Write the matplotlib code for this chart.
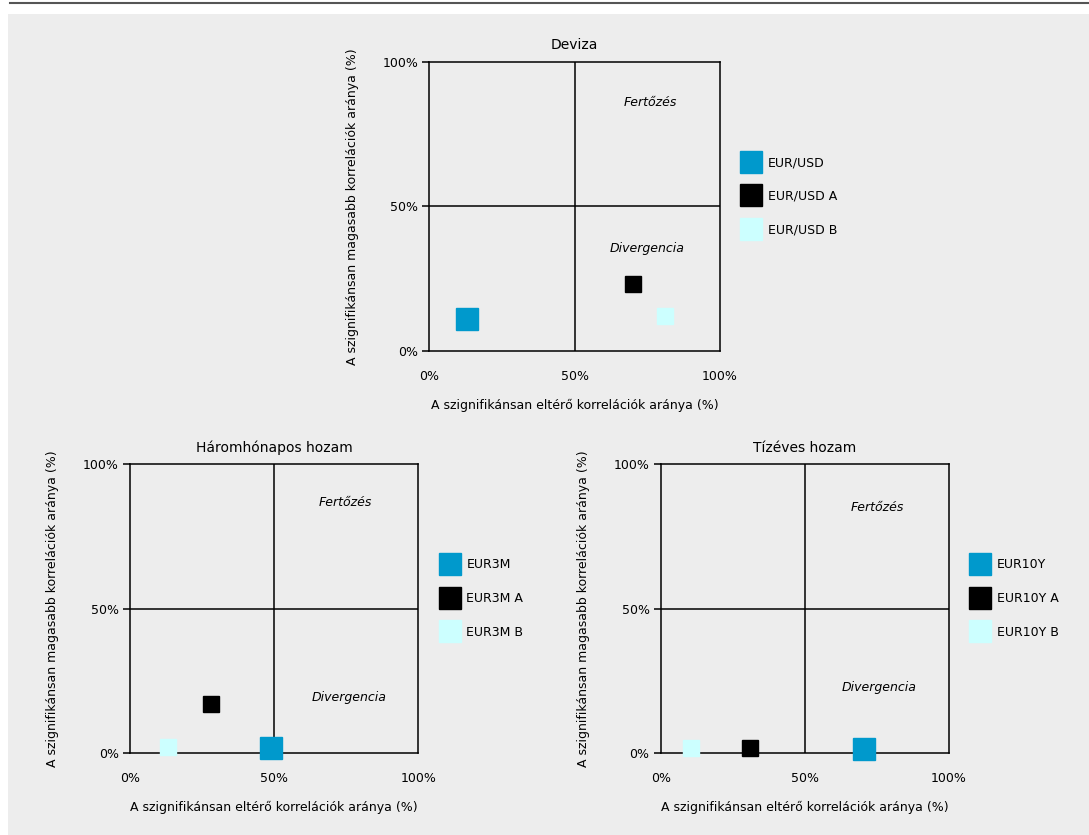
import matplotlib
matplotlib.use('Agg')
from matplotlib import pyplot as plt
from matplotlib.patches import Rectangle
from matplotlib.lines import Line2D

# Deviza
deviza_labels = ['EUR/USD', 'EUR/USD A', 'EUR/USD B']
deviza_x = [13, 70, 81]
deviza_y = [11, 23, 12]

# Háromhónapos hozam
h3m_labels = ['EUR3M', 'EUR3M A', 'EUR3M B']
h3m_x = [49, 28, 13]
h3m_y = [1.5, 17, 2]

# Tízéves hozam
h10y_labels = ['EUR10Y', 'EUR10Y A', 'EUR10Y B']
h10y_x = [70.5, 31, 10.5]
h10y_y = [1.3, 1.5, 1.5]

titles = ['Deviza', 'Háromhónapos hozam', 'Tízéves hozam']
ticks = [0, 50, 100]
tick_labels = ['0%', '50%', '100%']
xlabel = 'A szignifikánsan eltérő korrelációk aránya (%)'
ylabel = 'A szignifikánsan magasabb korrelációk aránya (%)'

colours = ['#0099cc', '#000000', '#ccffff']
sizes = [16.3, 11.5, 11.5]

W, H = 1089, 835
fig = plt.figure(figsize=(W / 100, H / 100), dpi=100)
fig.patch.set_facecolor('white')
fig.patches.append(Rectangle((8 / W, 0), 1, 1 - 14 / H, transform=fig.transFigure,
                             facecolor='#ededed', edgecolor='none', zorder=-10))
fig.lines.append(Line2D([10 / W, 1], [1 - 3 / H, 1 - 3 / H], transform=fig.transFigure,
                        color='#555555', lw=1.5))

# axes boxes in pixels: left, top, right, bottom
boxes = [(429.3, 61.7, 720, 351), (130, 464.3, 418.5, 752.7), (660.7, 464.3, 949, 752.7)]
data = [(deviza_labels, deviza_x, deviza_y),
        (h3m_labels, h3m_x, h3m_y),
        (h10y_labels, h10y_x, h10y_y)]
fert_pos = [(76, 86), (74.6, 86.6), (75, 85)]
div_pos = [(74.8, 35.5), (76, 19), (75.6, 22.6)]

fs = 9
for k in range(3):
    l, t, r, b = boxes[k]
    ax = fig.add_axes([l / W, 1 - b / H, (r - l) / W, (b - t) / H])
    ax.set_facecolor('none')
    labels, xs, ys = data[k]
    ax.axvline(50, color='black', lw=1.1, zorder=1)
    ax.axhline(50, color='black', lw=1.1, zorder=1)
    for i in range(3):
        ax.plot(xs[i], ys[i], linestyle='none', marker='s', markersize=sizes[i],
                color=colours[i], mec=colours[i], label=labels[i], clip_on=False, zorder=3)
    ax.set_xlim(0, 100)
    ax.set_ylim(0, 100)
    ax.set_xticks(ticks)
    ax.set_xticklabels(tick_labels, fontsize=fs)
    ax.set_yticks(ticks)
    ax.set_yticklabels(tick_labels, fontsize=fs)
    ax.tick_params(axis='x', length=0, pad=14)
    ax.tick_params(axis='y', length=5, width=1.1, pad=3)
    for s in ax.spines.values():
        s.set_linewidth(1.1)
    ax.set_title(titles[k], fontsize=fs + 1, pad=9)
    ax.set_xlabel(xlabel, fontsize=fs, labelpad=11)
    ax.set_ylabel(ylabel, fontsize=fs, labelpad=17)
    ax.text(fert_pos[k][0], fert_pos[k][1], 'Fertőzés', style='italic', fontsize=fs,
            ha='center', va='center')
    ax.text(div_pos[k][0], div_pos[k][1], 'Divergencia', style='italic', fontsize=fs,
            ha='center', va='center')
    leg = ax.legend(loc='center left', bbox_to_anchor=(1.045, 0.535), frameon=False,
                    fontsize=fs, labelspacing=1.65, handlelength=1.1, handletextpad=0.8)
    for h in leg.legend_handles:
        h.set_markersize(16)

fig.savefig('out.png', dpi=100)
